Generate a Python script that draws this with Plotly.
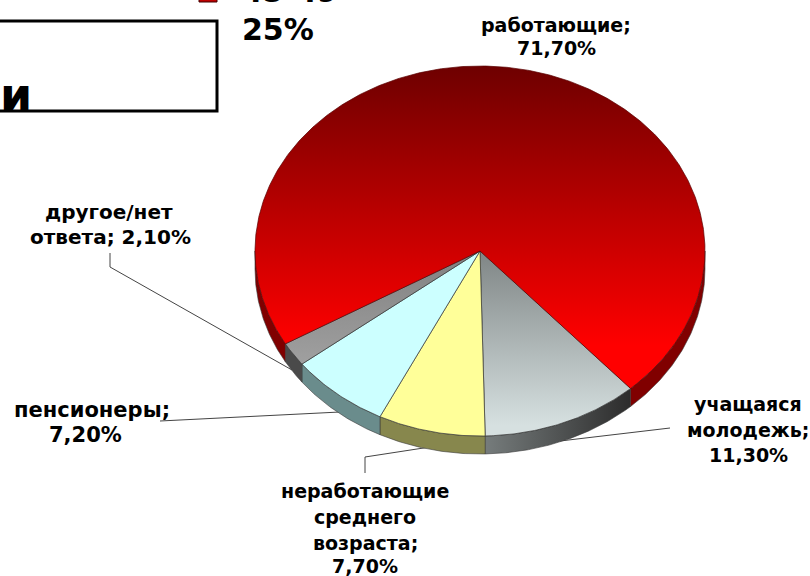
import numpy as np
import plotly.graph_objects as go

# ---- data ----
categories = ["работающие", "учащаяся молодежь", "неработающие среднего возраста", "пенсионеры", "другое/нет ответа"]
shares = [71.7, 11.3, 7.7, 7.2, 2.1]
share_labels = ["71,70%", "11,30%", "7,70%", "7,20%", "2,10%"]

# ---- styles ----
top_colors = [("#6e0000", "#ff0000"), ("#7f8585", "#d6e0e0"), ("#ffff99", "#ffff99"),
              ("#ccffff", "#ccffff"), ("#808080", "#a0a0a0")]
top_stops = [(66, 345), (251, 425), (251, 436), (251, 414), (251, 365)]
wall_colors = [("#800000", "#800000"), ("#767c7c", "#2c2c2c"), ("#87874d", "#87874d"),
               ("#6a8c8c", "#6a8c8c"), ("#4a4a4a", "#4a4a4a")]
CX, CY, RX, RY, DEPTH = 480, 251, 225, 185, 18
START = 138.0
FONT = "DejaVu Sans"
W, H = 810, 576


def arc(a0, a1, dy=0.0):
    th = np.radians(np.linspace(a0, a1, max(int(abs(a1 - a0) * 2), 2)))
    return CX + RX * np.sin(th), CY - RY * np.cos(th) + dy


fig = go.Figure()

# leader lines (under the pie)
leaders = [
    ([110, 110, 292], [253, 267, 370]),
    ([160, 340], [421, 412]),
    ([365, 365, 430], [473, 457, 447]),
    ([670, 560], [428, 441]),
]
for lx, ly in leaders:
    fig.add_trace(go.Scatter(x=lx, y=ly, mode="lines", line=dict(color="#444444", width=1), hoverinfo="skip"))

# slice boundaries in degrees, clockwise from 12 o'clock
order = [1, 2, 3, 4, 0]
edges = {}
a = START
for i in order:
    edges[i] = (a, a + shares[i] * 3.6)
    a += shares[i] * 3.6


def add_wall(a0, a1, colors):
    xt, yt = arc(a0, a1)
    xb, yb = arc(a0, a1, DEPTH)
    fig.add_trace(go.Scatter(
        x=np.r_[xt, xb[::-1], xt[0]], y=np.r_[yt, yb[::-1], yt[0]],
        mode="lines", fill="toself", line=dict(color="#3a3a3a", width=0.6), hoverinfo="skip",
        fillgradient=dict(type="horizontal", colorscale=[[0, colors[0]], [1, colors[1]]]),
    ))


# walls: only the front half of the pie (90..270 degrees) is visible
for i in order:
    a0, a1 = edges[i]
    for lo, hi in ((a0, a1), (a0 - 360, a1 - 360)):
        s, e = max(lo, 90), min(hi, 270)
        if e > s:
            add_wall(s, e, wall_colors[i])

# top faces
for i in order:
    a0, a1 = edges[i]
    xa, ya = arc(a0, a1)
    c = top_colors[i]
    fig.add_trace(go.Scatter(
        x=np.r_[CX, xa, CX], y=np.r_[CY, ya, CY],
        mode="lines", fill="toself", name=categories[i],
        line=dict(color="#333333" if i else "#5a0000", width=0.7),
        text=f"{categories[i]}; {share_labels[i]}", hoverinfo="text",
        fillgradient=dict(type="vertical", colorscale=[[0, c[0]], [1, c[1]]],
                          start=top_stops[i][0], stop=top_stops[i][1]),
    ))

# labels, one annotation for each line: (x, y, text, font size)
label_lines = [
    (556, 25, "работающие;", 19), (556, 48, "71,70%", 19),
    (748, 404, "учащаяся", 19), (748, 430, "молодежь;", 19), (748, 455, "11,30%", 19),
    (365, 491, "неработающие", 19), (365, 517, "среднего", 19), (365, 543, "возраста;", 19), (365, 566, "7,70%", 19),
    (92, 410, "пенсионеры;", 21), (85, 435, "7,20%", 21),
    (109, 212, "другое/нет", 20), (110, 237, "ответа; 2,10%", 20),
]
annotations = []
for x, y, t, size in label_lines:
    annotations.append(dict(x=x, y=y, text=f"<b>{t}</b>", showarrow=False, xanchor="center", yanchor="middle",
                            font=dict(family=FONT, size=size, color="black")))

# cropped pieces of the surrounding slide (paper coordinates may lie outside the plot)
annotations.append(dict(x=240, y=29, text="<b>25%</b>", showarrow=False, xanchor="left", yanchor="middle",
                        font=dict(family=FONT, size=30, color="black")))
annotations.append(dict(xref="paper", yref="paper", x=240 / W, y=1 + 9 / H, text="<b>45-49</b>", showarrow=False,
                        xanchor="left", yanchor="middle", font=dict(family=FONT, size=30, color="black")))
annotations.append(dict(xref="paper", yref="paper", x=-2 / W, y=1 - 95 / H, text="<b>и</b>", showarrow=False,
                        xanchor="left", yanchor="middle", font=dict(family=FONT, size=46, color="black")))

shapes = [
    dict(type="rect", x0=-5, x1=217, y0=21, y1=111, line=dict(color="black", width=3), layer="below"),
    dict(type="rect", x0=199, x1=217, y0=-14, y1=2, line=dict(color="#400000", width=1), fillcolor="#c00000"),
]

fig.update_layout(
    width=W, height=H, margin=dict(l=0, r=0, t=0, b=0),
    paper_bgcolor="white", plot_bgcolor="white", showlegend=False,
    xaxis=dict(range=[0, W], visible=False, fixedrange=True),
    yaxis=dict(range=[H, 0], visible=False, fixedrange=True),
    annotations=annotations, shapes=shapes,
)
fig.write_html("out.html", config={"displayModeBar": False},
               post_script="document.body.style.margin='0';document.documentElement.style.overflow='hidden';")
